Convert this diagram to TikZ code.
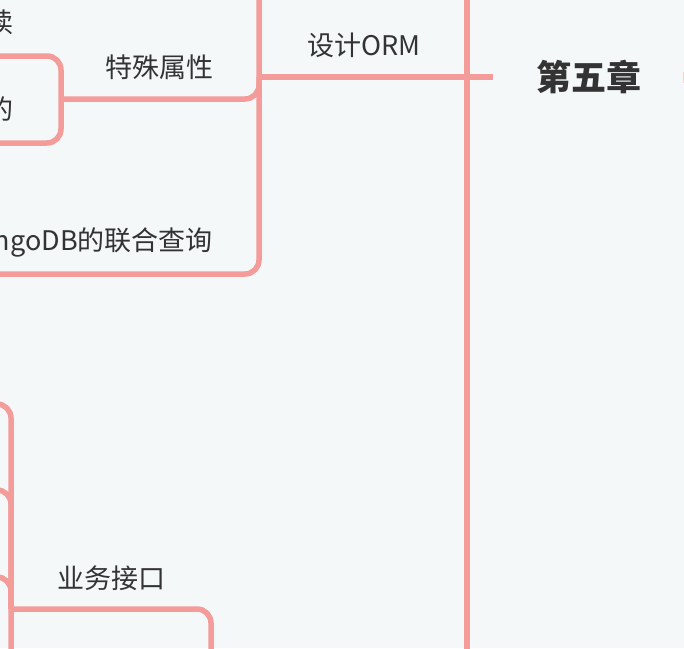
\documentclass[tikz,border=0pt]{standalone}
\usepackage{fontspec}
\newfontfamily\cjk{Noto Sans CJK SC}
\usetikzlibrary{calc}
\definecolor{bgc}{HTML}{F5F8F9}
\definecolor{linec}{HTML}{F39C9A}
\definecolor{txtc}{HTML}{333333}
\tikzset{
  branch/.style={draw=linec, line width=5.5pt, rounded corners=14pt, line cap=butt},
  lbl/.style={inner sep=0pt, text=txtc, font=\cjk\fontsize{27}{27}\selectfont},
  rootlbl/.style={inner sep=0pt, text=txtc, font=\cjk\bfseries\fontsize{35}{35}\selectfont}
}
\begin{document}
\begin{tikzpicture}[x=1pt,y=-1pt]
\useasboundingbox (0,0) rectangle (684,648);
\fill[bgc] (0,0) rectangle (684,648);
\clip (0,0) rectangle (684,648);
% nodes
\node[rootlbl] (root) at (589,77) {第五章};
\node[lbl] (orm) at (364,45) {设计ORM};
\node[lbl] (tssx) at (159,67) {特殊属性};
\node[lbl, anchor=east] (lhcx) at (213,242) {MongoDB的联合查询};
\node[lbl] (ywjk) at (111,578) {业务接口};
\node[lbl, anchor=east] (du) at (14,22) {读};
\node[lbl, anchor=east] (de) at (14,109) {的};
% coordinates
\coordinate (rootw) at (493,77);
\coordinate (ms) at (467,77);
\coordinate (mstop) at (467,-10);
\coordinate (msbot) at (467,660);
\coordinate (ormj) at (259,77);
\coordinate (ormtop) at (259,-10);
\coordinate (lhcxend) at (-10,274);
\coordinate (tssxj) at (61,99);
\coordinate (c1) at (-10,56);
\coordinate (c2) at (-10,143);
\coordinate (ywj) at (211,660);
\coordinate (ywk) at (11,609);
\coordinate (yc0) at (-10,404);
\coordinate (yc1) at (-10,490);
\coordinate (yc2) at (-10,577);
\coordinate (ywbot) at (11,660);
% main spine
\draw[branch] (mstop) -- (msbot);
% root to ORM
\draw[branch] (rootw) -- (ormj);
% ORM spine
\draw[branch] (ormtop) |- (lhcxend);
\draw[branch] (ormj) |- (tssxj);
% special attr children
\draw[branch] (tssxj) |- (c1);
\draw[branch] (tssxj) |- (c2);
% business interface
\draw[branch] (ywj) |- (ywk);
\draw[branch] (ywbot) |- (yc0);
\draw[branch] (ywk) |- (yc1);
\draw[branch] (ywk) |- (yc2);
% faint mark at right edge
\fill[linec!45] (682.6,72) rectangle (684,83);
\end{tikzpicture}
\end{document}
